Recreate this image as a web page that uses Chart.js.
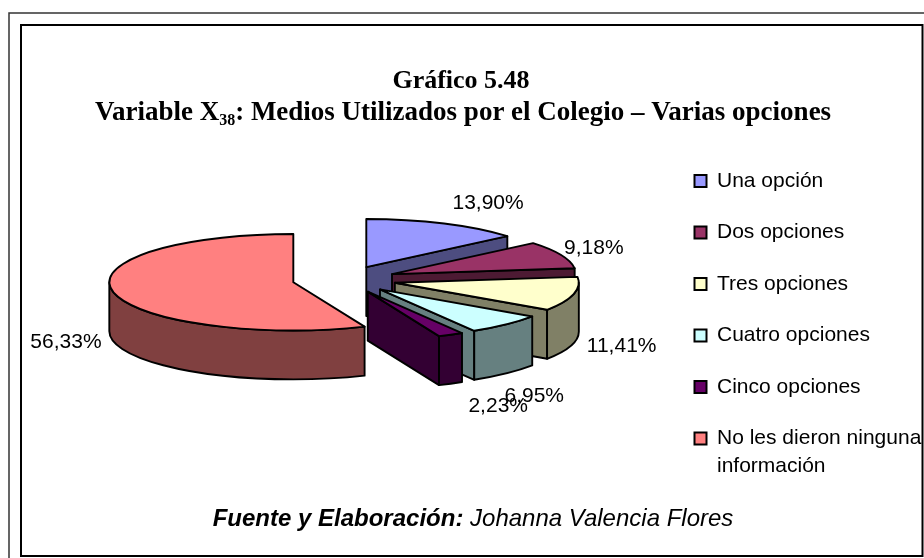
<!DOCTYPE html>
<html><head><meta charset="utf-8">
<style>html,body{margin:0;padding:0;background:#fff}canvas{display:block}</style>
<script src="https://cdn.jsdelivr.net/npm/chart.js@4"></script>
</head><body><canvas id="c" width="924" height="558"></canvas>
<script>
const categories = ['Una opción','Dos opciones','Tres opciones','Cuatro opciones','Cinco opciones',['No les dieron ninguna','información']];
const values = [13.90, 9.18, 11.41, 6.95, 2.23, 56.33];
const topColors = ['#9999FF','#993366','#FFFFCC','#CCFFFF','#660066','#FF8080'];
const sideColors = ['#4D4D80','#4D1A33','#808066','#668080','#330033','#804040'];

const titleLine1 = 'Gráfico 5.48';
const titleParts = ['Variable X','38',': Medios Utilizados por el Colegio – Varias opciones'];
const sourceParts = ['Fuente y Elaboración:',' Johanna Valencia Flores'];

const squash = 0.262, depth = 49;
const labelNudges = [[44,-20],[33,-6.6],[48,52],[28,72],[47.5,72],[-47,50]];

const pie3d = {
  id:'pie3d',
  beforeDraw(chart){
    const c = chart.ctx;
    c.save();
    c.fillStyle='#fff'; c.fillRect(0,0,924,558);
    c.strokeStyle='#333'; c.lineWidth=1.5;
    c.beginPath(); c.moveTo(930,13); c.lineTo(9,13); c.lineTo(9,565); c.stroke();
    c.strokeStyle='#000'; c.lineWidth=2;
    c.strokeRect(21,25,901.5,531);
    c.restore();
  },
  beforeDatasetDraw(chart){
    const c = chart.ctx, arcs = chart.getDatasetMeta(0).data;
    c.save();
    c.lineWidth = 1.9; c.strokeStyle = '#000'; c.lineJoin='round';
    arcs.forEach((a,i)=>{
      const mid=(a.startAngle+a.endAngle)/2, off=a.options.offset, r=a.outerRadius;
      const x=a.x+Math.cos(mid)*off, y=a.y+Math.sin(mid)*off*squash, ry=r*squash;
      const s=a.startAngle, e=a.endAngle;
      const px=t=>x+Math.cos(t)*r, py=t=>y+Math.sin(t)*ry;
      const quad=(t)=>{
        c.beginPath(); c.moveTo(x,y); c.lineTo(px(t),py(t)); c.lineTo(px(t),py(t)+depth); c.lineTo(x,y+depth); c.closePath();
        c.fillStyle=sideColors[i]; c.fill(); c.stroke();
      };
      if(Math.cos(s)<0) quad(s);
      if(Math.cos(e)>0) quad(e);
      // outer wall: the part of the rim that faces the viewer
      const from=Math.max(s,0), to=Math.min(e,Math.PI);
      if(to>from){
        c.beginPath();
        c.ellipse(x,y,r,ry,0,from,to);
        c.ellipse(x,y+depth,r,ry,0,to,from,true);
        c.closePath();
        c.fillStyle=sideColors[i]; c.fill(); c.stroke();
      }
      c.beginPath(); c.moveTo(x,y); c.ellipse(x,y,r,ry,0,s,e); c.closePath();
      c.fillStyle=a.options.backgroundColor; c.fill(); c.stroke();
    });
    c.restore();
    return false;
  },
  afterDatasetsDraw(chart){
    const c = chart.ctx, arcs = chart.getDatasetMeta(0).data;
    c.save();
    c.fillStyle='#000'; c.font='21px "Liberation Sans"'; c.textAlign='center'; c.textBaseline='middle';
    arcs.forEach((a,i)=>{
      const mid=(a.startAngle+a.endAngle)/2, off=a.options.offset, r=a.outerRadius;
      const x=a.x+Math.cos(mid)*(off+r), y=a.y+Math.sin(mid)*(off+r)*squash;
      c.fillText(values[i].toFixed(2).replace('.',',')+'%', x+labelNudges[i][0], y+labelNudges[i][1]);
    });
    // title
    c.font='bold 26px "Liberation Serif"'; c.textBaseline='alphabetic';
    c.fillText(titleLine1,461,88);
    const f0='bold 27px "Liberation Serif"', f1='bold 16px "Liberation Serif"';
    c.font=f0; const w0=c.measureText(titleParts[0]).width, w2=c.measureText(titleParts[2]).width;
    c.font=f1; const w1=c.measureText(titleParts[1]).width;
    let tx=463-(w0+w1+w2)/2;
    c.textAlign='left';
    c.font=f0; c.fillText(titleParts[0],tx,120); tx+=w0;
    c.font=f1; c.fillText(titleParts[1],tx,125); tx+=w1;
    c.font=f0; c.fillText(titleParts[2],tx,120);
    // source
    const f2='italic bold 24px "Liberation Sans"', f3='italic 24px "Liberation Sans"';
    c.font=f2; const s0=c.measureText(sourceParts[0]).width;
    c.font=f3; const s1=c.measureText(sourceParts[1]).width;
    let sx=473-(s0+s1)/2;
    c.font=f2; c.fillText(sourceParts[0],sx,526);
    c.font=f3; c.fillText(sourceParts[1],sx+s0,526);
    c.restore();
  },
  afterLayout(chart){
    const l=chart.legend, w=l.width, h=l.height, pad=l.options.labels.padding;
    l.left=694.5-pad; l.right=l.left+w; l.top=170.5-pad; l.bottom=l.top+h;
    l.adjustHitBoxes();
  }
};

new Chart(document.getElementById('c'),{
  type:'pie',
  data:{labels:categories,datasets:[{data:values,backgroundColor:topColors,borderColor:'#000',borderWidth:2,offset:52}]},
  plugins:[pie3d],
  options:{
    responsive:false,animation:false,radius:184,
    layout:{padding:{left:0,right:235.4,top:1,bottom:0}},
    plugins:{
      title:{display:false},tooltip:{enabled:false},
      legend:{display:true,position:'chartArea',align:'start',
        labels:{boxWidth:12,boxHeight:12,padding:30.5,color:'#000',font:{family:'"Liberation Sans"',size:21,lineHeight:'28px'}}}
    }
  }
});
</script></body></html>
